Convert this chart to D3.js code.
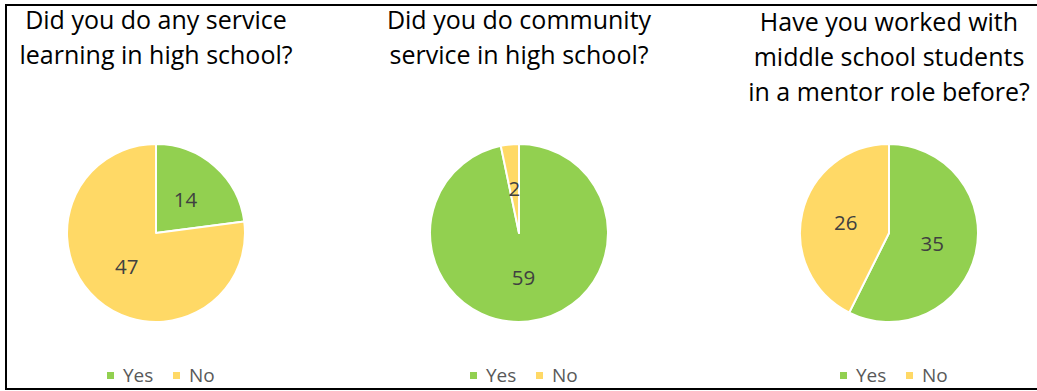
<!DOCTYPE html>
<html>
<head>
<meta charset="utf-8">
<script src="https://cdn.jsdelivr.net/npm/d3@7"></script>
<style>
  html, body { margin: 0; padding: 0; background: #fff; }
  svg { display: block; }
  text { font-family: "Open Sans", Lato, sans-serif; }
</style>
</head>
<body>
<svg id="chart" width="1037" height="391"></svg>
<script>
// Survey answers, one pie per question
const categories = ["Yes", "No"];
const titles = [
  ["Did you do any service", "learning in high school?"],
  ["Did you do community", "service in high school?"],
  ["Have you worked with", "middle school students", "in a mentor role before?"]
];
const serviceLearning = [14, 47];
const communityService = [59, 2];
const mentorRole = [35, 26];

const seriesValues = [serviceLearning, communityService, mentorRole];
const colors = ["#92D050", "#FFD966"];

const W = 1037, H = 391;
const svg = d3.select("#chart");

// frame (left, top and bottom edges)
svg.append("path")
  .attr("d", `M${W},5 H6 V389 H${W}`)
  .attr("fill", "none")
  .attr("stroke", "#000")
  .attr("stroke-width", 2);

// panel layout
const panelCenters = [156, 519, 889];
const titleTop = [29, 29, 31];
const lineGap = 35;
const pieCy = 233;
const radius = 89;

const color = d3.scaleOrdinal().domain(categories).range(colors);
const pie = d3.pie().sort(null).value(d => d.value).startAngle(0);
const arc = d3.arc().innerRadius(0).outerRadius(radius);

seriesValues.forEach((vals, i) => {
  const cx = panelCenters[i];
  const g = svg.append("g");

  // title
  g.append("text")
    .attr("text-anchor", "middle")
    .attr("font-size", 25)
    .attr("fill", "#000")
    .selectAll("tspan")
    .data(titles[i])
    .join("tspan")
    .attr("x", cx)
    .attr("y", (d, j) => titleTop[i] + j * lineGap)
    .text(d => d);

  const data = categories.map((c, k) => ({ cat: c, value: vals[k] }));
  const arcs = pie(data);
  const pg = g.append("g").attr("transform", `translate(${cx},${pieCy})`);

  pg.selectAll("path")
    .data(arcs)
    .join("path")
    .attr("d", arc)
    .attr("fill", d => color(d.data.cat))
    .attr("stroke", "#fff")
    .attr("stroke-width", 2)
    .attr("stroke-linejoin", "round");

  pg.selectAll("text.val")
    .data(arcs)
    .join("text")
    .attr("class", "val")
    .attr("transform", d => `translate(${arc.centroid(d)})`)
    .attr("text-anchor", "middle")
    .attr("dy", "0.36em")
    .attr("font-size", 20.5)
    .attr("fill", "#404040")
    .text(d => d.data.value);

  // legend
  const lg = g.append("g").attr("transform", `translate(${cx - 49},382)`);
  const item = lg.selectAll("g")
    .data(categories)
    .join("g")
    .attr("transform", (d, k) => `translate(${k * 66},0)`);
  item.append("rect")
    .attr("x", 0).attr("y", -10)
    .attr("width", 7).attr("height", 7)
    .attr("fill", d => color(d));
  item.append("text")
    .attr("x", 16)
    .attr("font-size", 19)
    .attr("fill", "#595959")
    .text(d => d);
});
</script>
</body>
</html>
